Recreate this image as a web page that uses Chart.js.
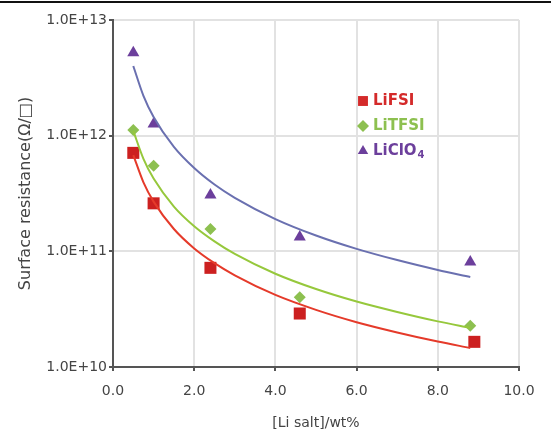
<!DOCTYPE html>
<html>
<head>
  <meta charset="UTF-8">
  <title>Surface resistance</title>
  <script src="https://cdn.jsdelivr.net/npm/chart.js"></script>
  <style>
    html, body { margin: 0; padding: 0; background: #fff; }
  </style>
</head>
<body>
  <canvas id="chart" width="551" height="432"></canvas>

  <script>
    // measured points
    const seriesNames = ['LiFSI', 'LiTFSI', 'LiClO4'];
    const xFSI   = [0.5, 1.0, 2.4, 4.6, 8.9];
    const yFSI   = [7.1e11, 2.6e11, 7.2e10, 2.9e10, 1.65e10];
    const xTFSI  = [0.5, 1.0, 2.4, 4.6, 8.8];
    const yTFSI  = [1.12e12, 5.5e11, 1.56e11, 4.0e10, 2.27e10];
    const xClO4  = [0.5, 1.0, 2.4, 4.6, 8.8];
    const yClO4  = [5.2e12, 1.26e12, 3.07e11, 1.33e11, 8.1e10];

    // trend curves
    const xTrend     = [0.5, 0.75, 1, 1.5, 2, 2.5, 3, 4, 5, 6, 7, 8, 8.8];
    const trendFSI   = [6.8e11, 3.95e11, 2.69e11, 1.56e11, 1.06e11, 7.9e10, 6.2e10, 4.2e10, 3.12e10, 2.44e10, 1.99e10, 1.66e10, 1.46e10];
    const trendTFSI  = [1.10e12, 6.31e11, 4.26e11, 2.44e11, 1.65e11, 1.22e11, 9.5e10, 6.4e10, 4.72e10, 3.68e10, 2.99e10, 2.48e10, 2.18e10];
    const trendClO4  = [4.0e12, 2.21e12, 1.45e12, 8.0e11, 5.25e11, 3.78e11, 2.90e11, 1.90e11, 1.37e11, 1.05e11, 8.4e10, 6.9e10, 6.0e10];

    const xTicks = [0, 2, 4, 6, 8, 10];
    const yTicks = [1e10, 1e11, 1e12, 1e13];

    const pts = (xs, ys) => xs.map((x, i) => ({ x: x, y: ys[i] }));

    function curve(ys, color) {
      return {
        type: 'line',
        data: pts(xTrend, ys),
        borderColor: color,
        borderWidth: 2,
        pointRadius: 0,
        cubicInterpolationMode: 'monotone',
        fill: false
      };
    }

    function marks(label, xs, ys, color, style, r) {
      return {
        type: 'scatter',
        label: label,
        data: pts(xs, ys),
        pointStyle: style,
        pointRadius: r,
        backgroundColor: color,
        borderColor: color,
        borderWidth: 0,
        showLine: false
      };
    }

    const legendItems = [
      { text: 'LiFSI', sub: '', color: '#d42a2a', style: 'rect', r: 7, y: 101 },
      { text: 'LiTFSI', sub: '', color: '#8dc050', style: 'rectRot', r: 6, y: 126 },
      { text: 'LiClO', sub: '4', color: '#6c3f9c', style: 'triangle', r: 6, y: 151 }
    ];

    const extras = {
      id: 'extras',
      afterDraw(chart) {
        const ctx = chart.ctx;
        ctx.save();
        // frame line at the top
        ctx.fillStyle = '#111';
        ctx.fillRect(0, 1, chart.width, 2);
        legendItems.forEach(it => {
          ctx.fillStyle = it.color;
          ctx.strokeStyle = it.color;
          Chart.helpers.drawPoint(ctx, { pointStyle: it.style, radius: it.r, borderWidth: 0 }, 363, it.y);
          ctx.font = 'bold 15px "DejaVu Sans"';
          ctx.textBaseline = 'middle';
          ctx.textAlign = 'left';
          ctx.fillText(it.text, 373, it.y);
          if (it.sub) {
            const w = ctx.measureText(it.text).width;
            ctx.font = 'bold 10px "DejaVu Sans"';
            ctx.fillText(it.sub, 373 + w + 1, it.y + 4);
          }
        });
        ctx.restore();
      }
    };

    new Chart(document.getElementById('chart'), {
      data: {
        datasets: [
          curve(trendClO4, '#6a70b0'),
          curve(trendTFSI, '#96c83c'),
          curve(trendFSI, '#e53a2a'),
          marks(seriesNames[2], xClO4, yClO4, '#6c3f9c', 'triangle', 7),
          marks(seriesNames[1], xTFSI, yTFSI, '#8dc050', 'rectRot', 6),
          marks(seriesNames[0], xFSI, yFSI, '#cc2020', 'rect', 8.5)
        ]
      },
      options: {
        responsive: false,
        animation: false,
        layout: { padding: { top: 20, right: 32, left: 0, bottom: 0 } },
        plugins: { legend: { display: false }, tooltip: { enabled: false } },
        scales: {
          x: {
            type: 'linear',
            min: 0,
            max: 10,
            afterBuildTicks: s => { s.ticks = xTicks.map(v => ({ value: v })); },
            afterFit: s => { s.height = 65; },
            ticks: {
              color: '#444',
              font: { family: 'DejaVu Sans', size: 14 },
              padding: 12,
              maxRotation: 0,
              autoSkip: false,
              callback: v => v.toFixed(1)
            },
            grid: { color: '#e2e2e2', lineWidth: 2, tickColor: '#555', tickLength: 4, drawTicks: true },
            border: { color: '#555', width: 2 },
            title: {
              display: true,
              text: '[Li salt]/wt%',
              color: '#444',
              font: { family: 'DejaVu Sans', size: 14 },
              padding: { top: 6, bottom: 0 }
            }
          },
          y: {
            type: 'logarithmic',
            min: 1e10,
            max: 1e13,
            afterBuildTicks: s => { s.ticks = yTicks.map(v => ({ value: v })); },
            afterFit: s => { s.width = 113; },
            ticks: {
              color: '#444',
              font: { family: 'DejaVu Sans', size: 14 },
              padding: 2,
              autoSkip: false,
              callback: v => {
                const e = Math.round(Math.log10(v));
                return '1.0E+' + e;
              }
            },
            grid: { color: '#e2e2e2', lineWidth: 2, tickColor: '#555', tickLength: 4 },
            border: { color: '#555', width: 2 },
            title: {
              display: true,
              text: 'Surface resistance(Ω/□)',
              color: '#444',
              font: { family: 'DejaVu Sans', size: 16 },
              padding: { top: 16, bottom: 0 }
            }
          }
        }
      },
      plugins: [extras]
    });
  </script>
</body>
</html>
